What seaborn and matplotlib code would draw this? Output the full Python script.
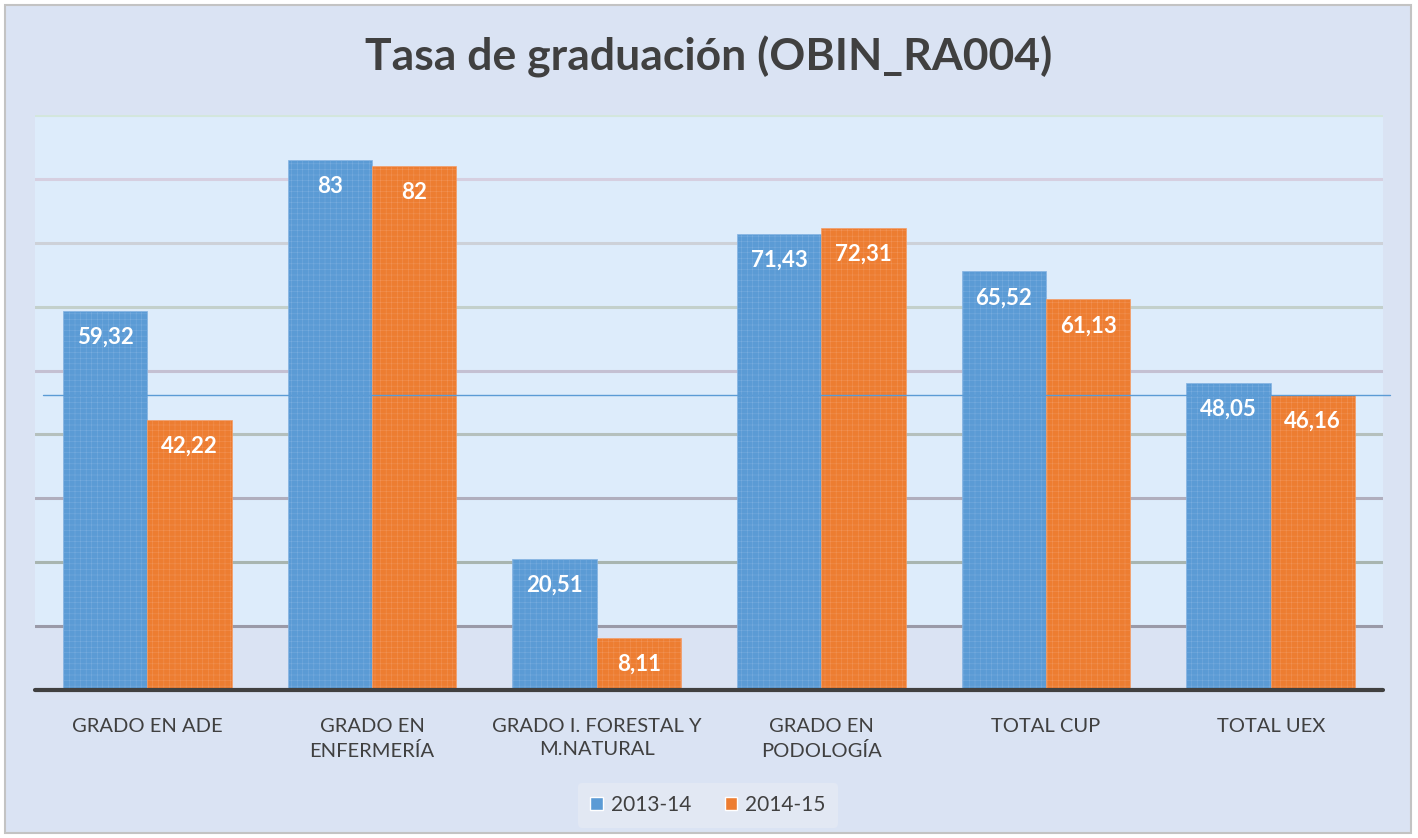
import matplotlib.pyplot as plt
import pandas as pd
import seaborn as sns
from matplotlib.patches import Rectangle

# Datos del gráfico
categorias = ["GRADO EN ADE", "GRADO EN\nENFERMERÍA", "GRADO I. FORESTAL Y\nM.NATURAL",
              "GRADO EN\nPODOLOGÍA", "TOTAL CUP", "TOTAL UEX"]
cursos = ["2013-14", "2014-15"]
tasa_2013_14 = [59.32, 83, 20.51, 71.43, 65.52, 48.05]
tasa_2014_15 = [42.22, 82, 8.11, 72.31, 61.13, 46.16]
linea_ref = 46.16

colores = {"2013-14": "#5b9bd5", "2014-15": "#ed7d31"}
grid_colores = {10: "#9a9aa8", 20: "#a8b5b0", 30: "#b0aebd", 40: "#b5c0bd", 50: "#c4c0d2",
                60: "#c3d0cb", 70: "#cdd1d8", 80: "#d6cfe0", 90: "#d3e6dc"}

df = pd.DataFrame({
    "Grado": categorias * 2,
    "Curso": [cursos[0]] * len(categorias) + [cursos[1]] * len(categorias),
    "Tasa": tasa_2013_14 + tasa_2014_15,
})

sns.set_theme(style="white")
plt.rcParams["font.family"] = ["Lato", "DejaVu Sans"]
plt.rcParams["hatch.linewidth"] = 0.25

fig = plt.figure(figsize=(14.18, 8.38), dpi=100, facecolor="white")
fondo = Rectangle((5 / 1418, 5 / 838), 1406 / 1418, 828 / 838, transform=fig.transFigure,
                  facecolor="#dae3f3", edgecolor="#c3c3c3", linewidth=1.5, zorder=-10)
fig.patches.append(fondo)

ax = fig.add_axes([35 / 1418, (838 - 690) / 838, 1348 / 1418, 575 / 838])
ax.set_facecolor("none")
ax.axhspan(10, 90, color="#ddecfb", zorder=0, lw=0)

sns.barplot(data=df, x="Grado", y="Tasa", hue="Curso", palette=colores, width=0.75,
            saturation=1, ax=ax, zorder=3)

for cont, curso in zip(ax.containers, cursos):
    for bar in cont:
        bar.set_hatch("+++")
        bar.set_edgecolor("#86b4e3" if curso == "2013-14" else "#f39d68")
        bar.set_linewidth(0.5)
        h = bar.get_height()
        ax.annotate(f"{h:g}".replace(".", ","), (bar.get_x() + bar.get_width() / 2, h),
                    xytext=(0, -19), textcoords="offset points", ha="center", va="center",
                    color="white", fontsize=16, fontweight="bold", zorder=5)

for v, c in grid_colores.items():
    ax.axhline(v, color=c, lw=2.2, zorder=1)
ax.axhline(0, color="#404040", lw=3, zorder=4, clip_on=False)
ax.axhline(linea_ref, xmin=0.006, xmax=1.005, color="#5b9bd5", lw=1, zorder=4, clip_on=False)

ax.set_ylim(0, 90)
ax.set_xlim(-0.5, len(categorias) - 0.5)
ax.set_yticks([])
ax.set_xlabel("")
ax.set_ylabel("")
ax.tick_params(axis="x", length=0, pad=20, labelsize=14.5, labelcolor="#404040")
for lbl in ax.get_xticklabels():
    lbl.set_linespacing(1.45)
for s in ax.spines.values():
    s.set_visible(False)

fig.text(0.5, 1 - 57 / 838, "Tasa de graduación (OBIN_RA004)", ha="center", va="center",
         fontsize=32, fontweight="bold", color="#404040")

leg = ax.legend(loc="center", bbox_to_anchor=(708 / 1418, (838 - 805) / 838),
                bbox_transform=fig.transFigure,
                ncol=2, frameon=True, fontsize=15, handlelength=0.6, handleheight=0.6,
                columnspacing=1.6, handletextpad=0.4, borderpad=0.6)
leg.get_frame().set_facecolor("#e2e8f3")
leg.get_frame().set_edgecolor("none")
leg.get_frame().set_alpha(1)
for t in leg.get_texts():
    t.set_color("#404040")

fig.savefig("out.png", dpi=100, facecolor=fig.get_facecolor())
